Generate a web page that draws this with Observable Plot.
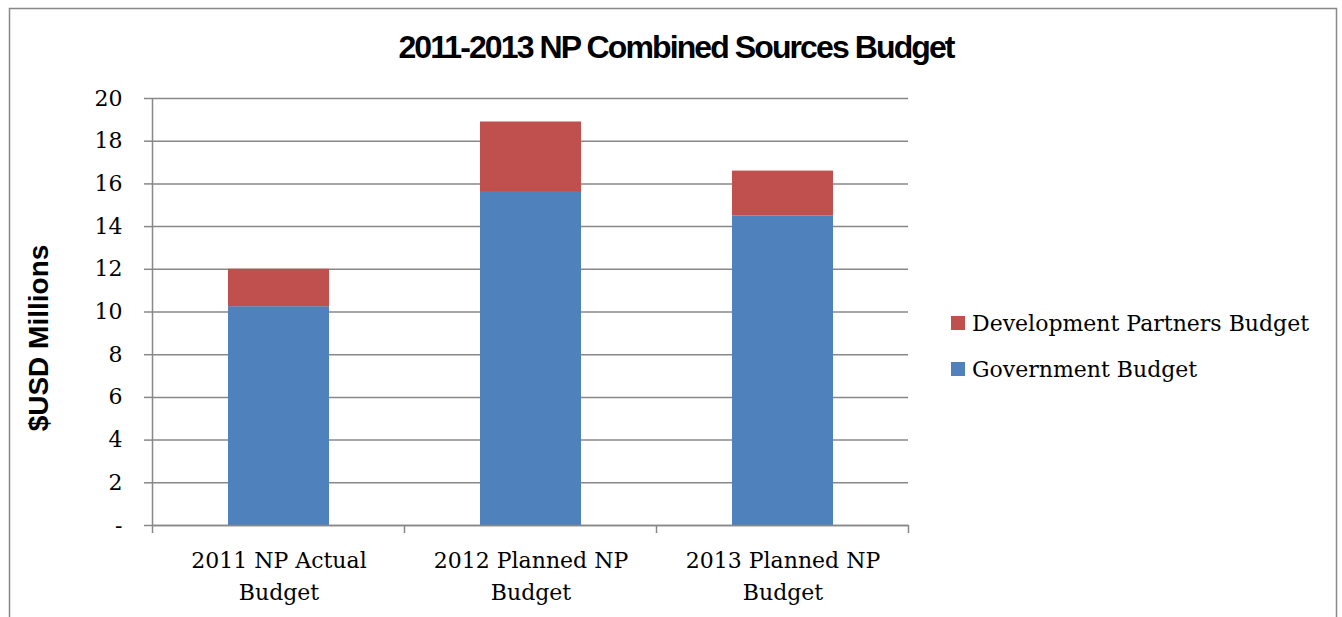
<!DOCTYPE html>
<html>
<head>
<meta charset="utf-8">
<script src="https://cdn.jsdelivr.net/npm/d3@7"></script>
<script src="https://cdn.jsdelivr.net/npm/@observablehq/plot@0.6"></script>
<style>
  html, body { margin: 0; padding: 0; background: #fff; }
  #chart svg { display: block; }
</style>
</head>
<body>
<div id="chart"></div>
<script>
const categories = ["2011 NP Actual Budget", "2012 Planned NP Budget", "2013 Planned NP Budget"];
const xTickLabels = ["2011 NP Actual\nBudget", "2012 Planned NP\nBudget", "2013 Planned NP\nBudget"];
const seriesNames = ["Government Budget", "Development Partners Budget"];
const governmentBudget = [10.25, 15.6, 14.5];
const partnersBudget = [1.75, 3.3, 2.1];
const yTicks = [0, 2, 4, 6, 8, 10, 12, 14, 16, 18, 20];
const seriesColors = ["#4F81BD", "#C0504D"];
const titleText = "2011-2013 NP Combined Sources Budget";
const yTitle = "$USD Millions";

const rows = [];
categories.forEach((c, i) => {
  rows.push({category: c, series: seriesNames[0], value: governmentBudget[i]});
  rows.push({category: c, series: seriesNames[1], value: partnersBudget[i]});
});

const W = 1342, H = 617;
const serif = "'DejaVu Serif', serif";
const sans = "'Liberation Sans', Arial, sans-serif";

const chart = Plot.plot({
  width: W,
  height: H,
  marginLeft: 152,
  marginRight: 434,
  marginTop: 98,
  marginBottom: 92,
  style: {fontFamily: serif, fontSize: "22px", color: "#000", background: "#fff"},
  x: {domain: categories, paddingInner: 0.6, paddingOuter: 0.3, label: null},
  y: {domain: [0, 20], label: null},
  color: {domain: seriesNames, range: seriesColors},
  marks: [
    Plot.gridY(yTicks, {stroke: "#888", strokeOpacity: 1, strokeWidth: 1.5}),
    Plot.barY(rows, {x: "category", y: "value", fill: "series"}),
    Plot.ruleY([0], {stroke: "#888", strokeWidth: 1.5}),
    Plot.axisY(yTicks, {
      tickSize: 8, tickPadding: 22, stroke: "#888", strokeWidth: 1.5,
      tickFormat: d => d === 0 ? "-" : String(d), fontSize: 22, fill: "#000", label: null
    }),
    Plot.axisX({
      tickSize: 0, tickPadding: 20, lineHeight: 1.45,
      tickFormat: d => xTickLabels[categories.indexOf(d)], fontSize: 22, fill: "#000", label: null
    })
  ]
});

document.getElementById("chart").appendChild(chart);

const svg = d3.select(chart);
const xs = chart.scale("x");
const ys = chart.scale("y");
const y0 = ys.apply(0), y20 = ys.apply(20);
const gap = (xs.step - xs.bandwidth) / 2;
const boundaries = categories.map(c => xs.apply(c) - gap);
boundaries.push(xs.apply(categories[categories.length - 1]) + xs.bandwidth + gap);

// y axis line
svg.append("line")
  .attr("x1", boundaries[0]).attr("x2", boundaries[0])
  .attr("y1", y20).attr("y2", y0 + 1)
  .attr("stroke", "#888").attr("stroke-width", 1.5);
// category boundary ticks
boundaries.forEach(b => {
  svg.append("line")
    .attr("x1", b).attr("x2", b)
    .attr("y1", y0).attr("y2", y0 + 8)
    .attr("stroke", "#888").attr("stroke-width", 1.5);
});

// outer border
svg.append("rect")
  .attr("x", 9.5).attr("y", 8.5).attr("width", 1327).attr("height", 640)
  .attr("fill", "none").attr("stroke", "#888").attr("stroke-width", 1.5);

// title
svg.append("text")
  .attr("x", 676).attr("y", 58)
  .attr("text-anchor", "middle")
  .style("font-family", sans).style("font-weight", "bold")
  .style("font-size", "32px").style("letter-spacing", "-1.9px")
  .attr("fill", "#000")
  .text(titleText);

// y title
svg.append("text")
  .attr("transform", "translate(48,338) rotate(-90)")
  .attr("text-anchor", "middle")
  .style("font-family", sans).style("font-weight", "bold")
  .style("font-size", "28px")
  .attr("fill", "#000")
  .text(yTitle);

// legend (top to bottom: partners, government)
const legendItems = [seriesNames[1], seriesNames[0]];
const cs = chart.scale("color");
legendItems.forEach((s, i) => {
  const cy = 323 + i * 46;
  svg.append("rect")
    .attr("x", 951).attr("y", cy - 7).attr("width", 14).attr("height", 14)
    .attr("fill", cs.apply(s));
  svg.append("text")
    .attr("x", 972).attr("y", cy)
    .attr("dy", "0.35em")
    .attr("text-anchor", "start")
    .style("font-family", serif).style("font-size", "22px")
    .attr("fill", "#000")
    .text(s);
});
</script>
</body>
</html>
